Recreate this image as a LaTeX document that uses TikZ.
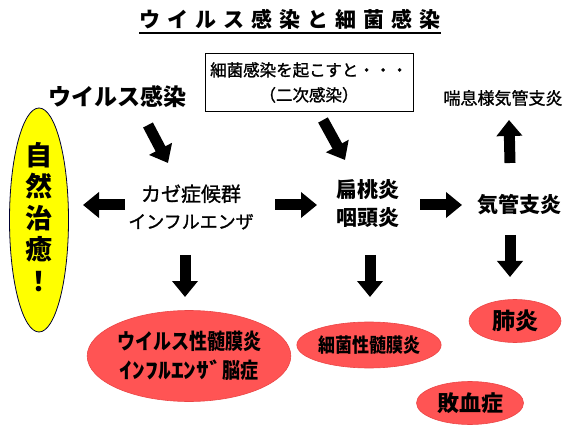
\documentclass[tikz,border=0pt]{standalone}
\usepackage{fontspec}
\setmainfont{Noto Sans CJK JP}
\newfontfamily\jpmed{Noto Sans CJK JP}[FakeBold=1.3]
\usetikzlibrary{arrows.meta,shapes.geometric}
\definecolor{redfill}{RGB}{255,84,84}
\definecolor{redline}{RGB}{235,70,70}
\definecolor{yellowfill}{RGB}{255,255,0}
\tikzset{
  barrow/.style={line width=11pt,-{Triangle[length=16pt,width=25pt]}},
  plain/.style={inner sep=0pt,align=center,font=\bfseries},
  redell/.style={ellipse,fill=redfill,draw=redline,line width=0.6pt,inner sep=0pt,align=center,font=\bfseries},
}
\begin{document}
\begin{tikzpicture}[x=1pt,y=-1pt]
\useasboundingbox (0,0) rectangle (580,435);
% title
\node[plain,font=\bfseries\fontsize{21}{21}\selectfont] (title) at (290,19)
  {ウ\kern7pt イ\kern7pt ル\kern7pt ス\kern7pt 感\kern7pt 染\kern7pt と\kern7pt 細\kern7pt 菌\kern7pt 感\kern7pt 染};
\draw[line width=1.6pt] ([yshift=-4pt]title.south west) -- ([yshift=-4pt]title.south east);
% box
\node[draw,line width=0.8pt,minimum width=208pt,minimum height=58pt,align=center,inner sep=0pt,
  font=\jpmed\fontsize{16.5}{25}\selectfont] (box) at (309,82.5) {細菌感染を起こすと・・・\\（二次感染）};
\node[plain,font=\bfseries\fontsize{23}{23}\selectfont] (virus) at (117,97) {ウイルス感染};
\node[plain,font=\jpmed\fontsize{17}{17}\selectfont] (asthma) at (503,98) {喘息様気管支炎};
% yellow ellipse
\node[ellipse,fill=yellowfill,draw=black!80!blue,line width=0.8pt,minimum width=59pt,minimum height=224pt,inner sep=0pt] (heal) at (39,220) {};
\node[plain,font=\bfseries\fontsize{27}{31.5}\selectfont] (healtext) at (39,217) {自\\然\\治\\癒\\！};
% middle texts
\node[plain,font=\jpmed\fontsize{20}{27}\selectfont] (kaze) at (191,207) {カゼ症候群\\{\fontsize{18}{18}\selectfont インフルエンザ}};
\node[plain,font=\bfseries\fontsize{21}{28}\selectfont] (tonsil) at (368,204) {扁桃炎\\咽頭炎};
\node[plain,font=\bfseries\fontsize{21}{21}\selectfont] (bronch) at (519,205) {気管支炎};
% red ellipses
\node[redell,minimum width=195pt,minimum height=91pt,font=\bfseries\fontsize{18}{29}\selectfont] (e1) at (189,356)
  {\scalebox{1}[1.2]{ウイルス性髄膜炎}\\\scalebox{1.42}[1.2]{ｲﾝﾌﾙｴﾝｻﾞ}\scalebox{1}[1.2]{脳症}};
\node[redell,minimum width=143pt,minimum height=46pt,font=\bfseries\fontsize{17}{17}\selectfont] (e2) at (369,345) {\scalebox{1}[1.15]{細菌性髄膜炎}};
\node[redell,minimum width=92pt,minimum height=43pt,font=\bfseries\fontsize{23}{23}\selectfont] (pneu) at (515,321) {肺炎};
\node[redell,minimum width=107pt,minimum height=43pt,font=\bfseries\fontsize{22}{22}\selectfont] (sepsis) at (470,403) {敗血症};
% arrows
\draw[barrow] ([shift={(31,28)}]virus.center) -- ([shift={(-23,-44)}]kaze.center);
\draw[barrow] ([shift={(14,37.5)}]box.center) -- ([shift={(-23,-44)}]tonsil.center);
\draw[barrow] ([shift={(-66,-2)}]kaze.center) -- ([shift={(44,-15)}]heal.center);
\draw[barrow] ([shift={(84,-2)}]kaze.center) -- ([shift={(-51,1)}]tonsil.center);
\draw[barrow] ([shift={(52,1)}]tonsil.center) -- ([shift={(-57,0)}]bronch.center);
\draw[barrow] ([shift={(-9,-42)}]bronch.center) -- ([shift={(6,22)}]asthma.center);
\draw[barrow] ([shift={(-9,30)}]bronch.center) -- ([shift={(-5,-44)}]pneu.center);
\draw[barrow] ([shift={(-6,48)}]kaze.center) -- ([shift={(-4,-59)}]e1.center);
\draw[barrow] ([shift={(2,51)}]tonsil.center) -- ([shift={(1,-48)}]e2.center);
\end{tikzpicture}
\end{document}
